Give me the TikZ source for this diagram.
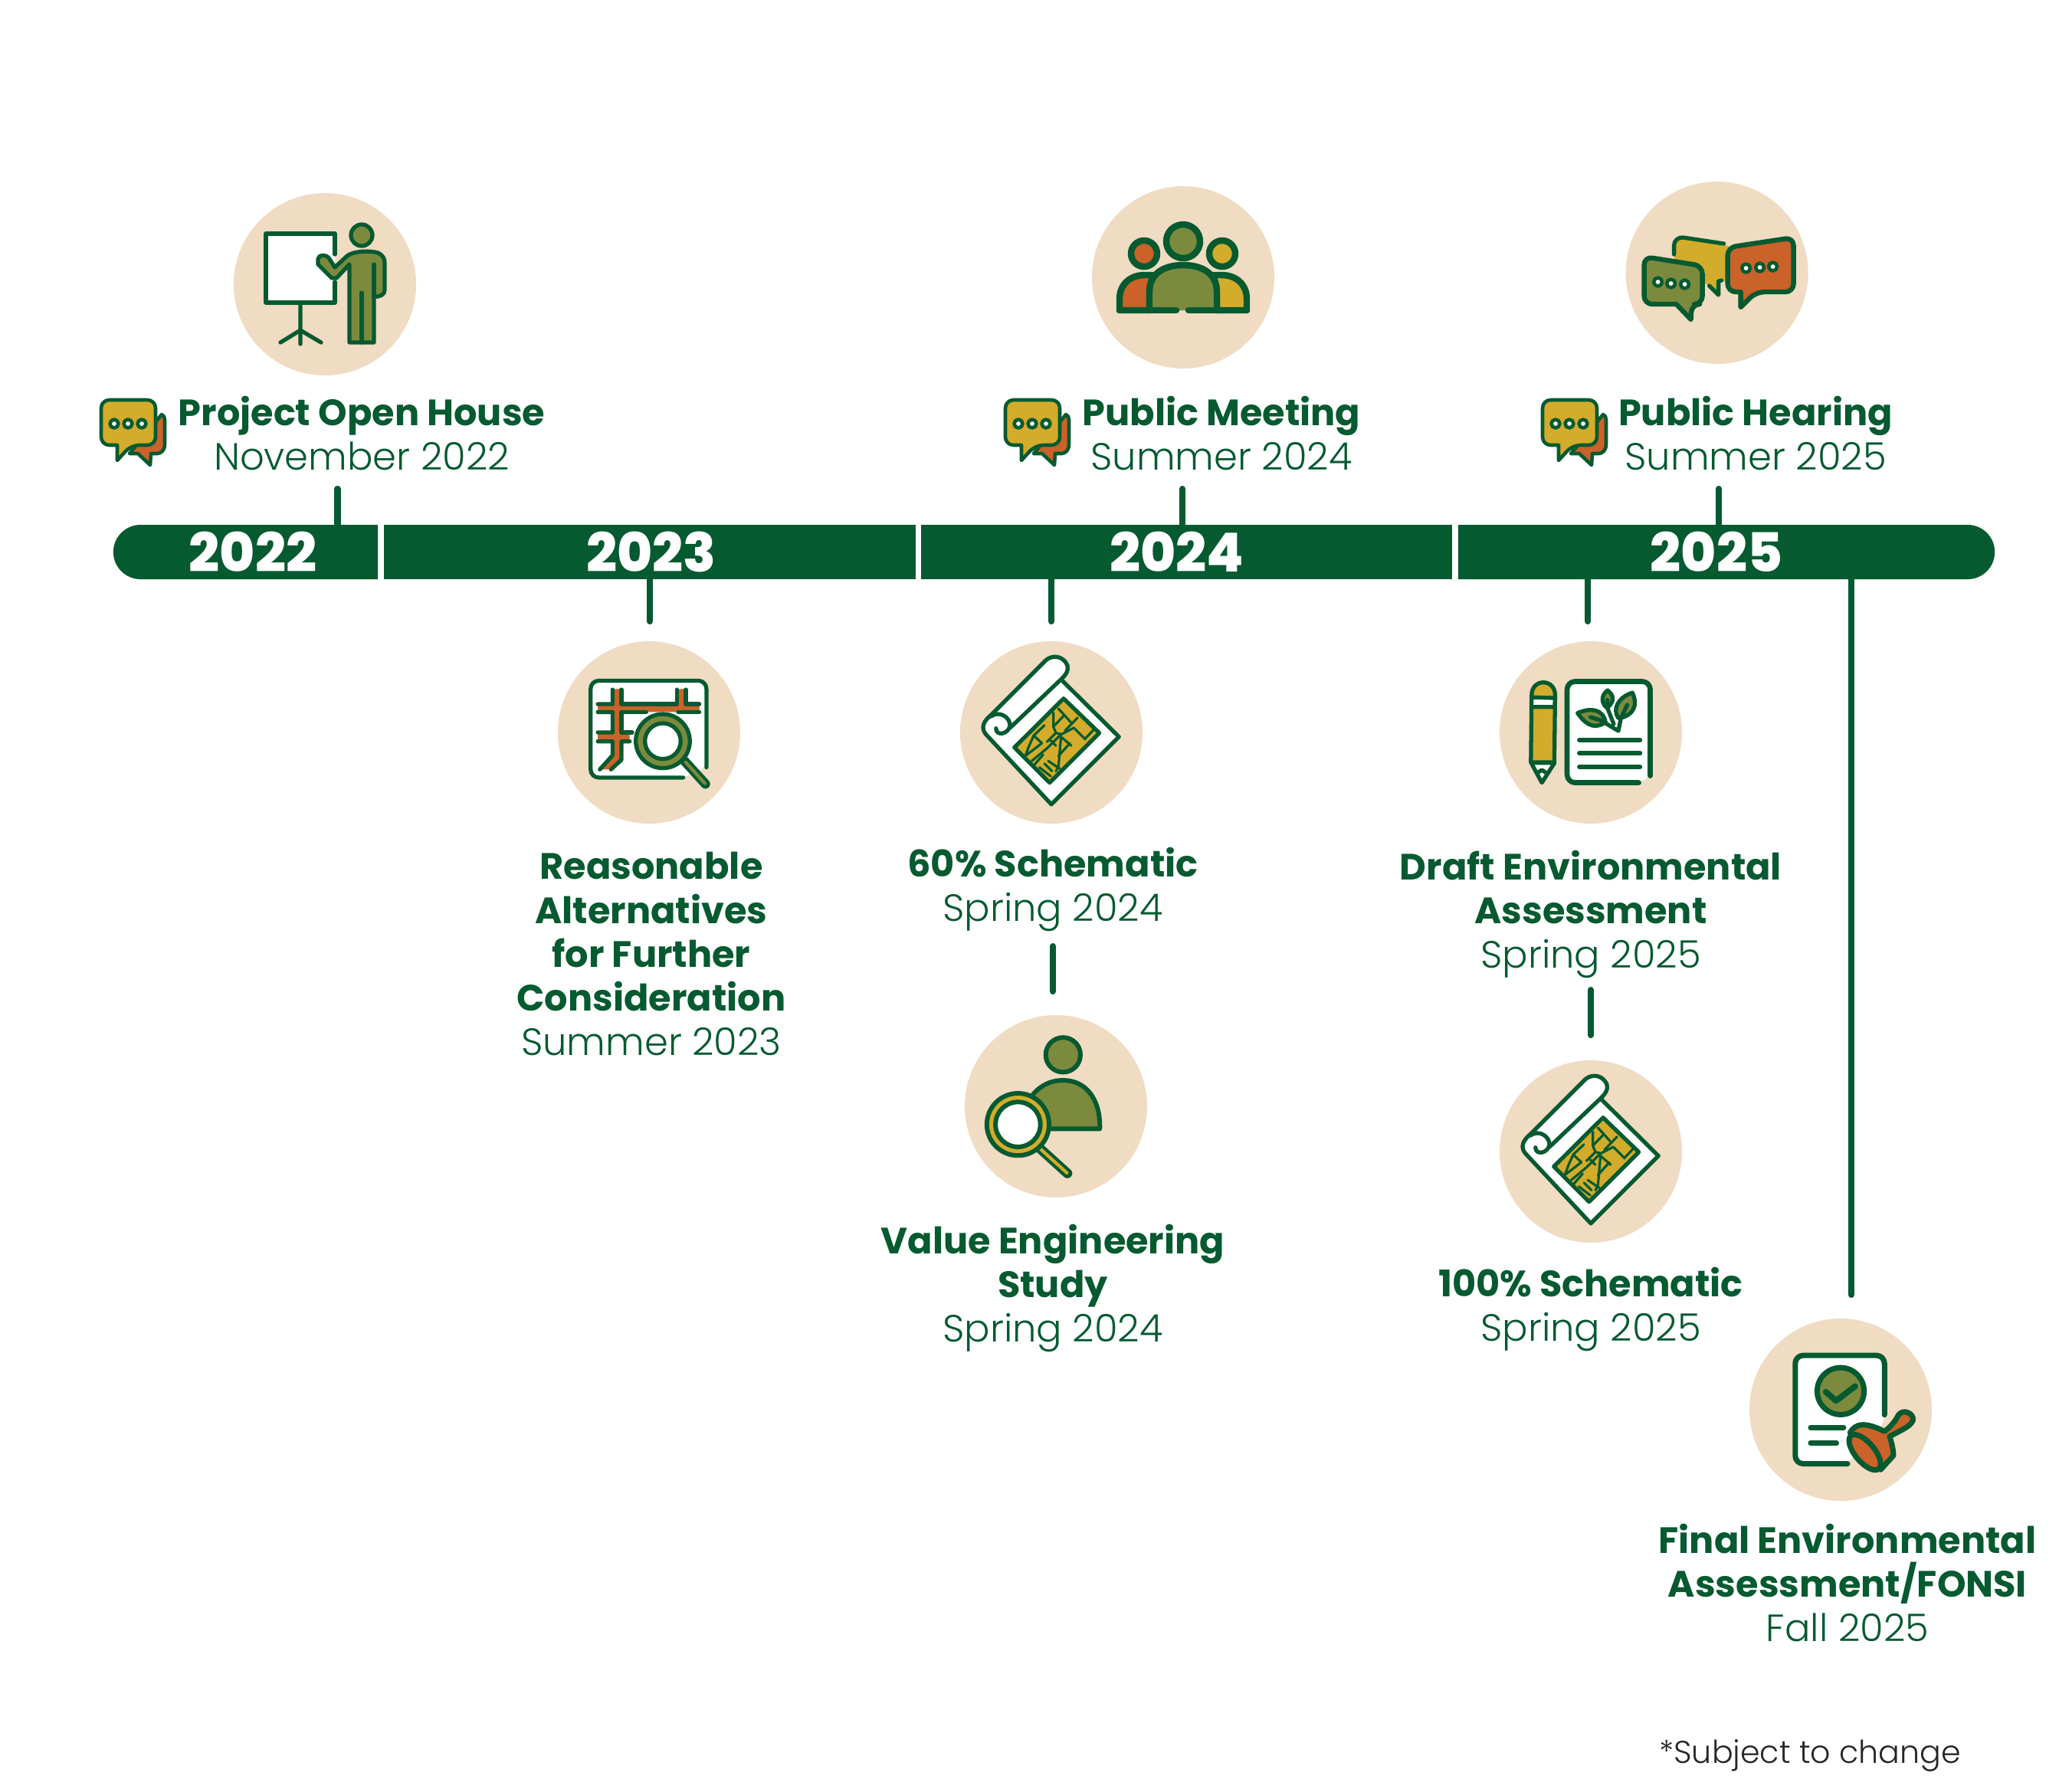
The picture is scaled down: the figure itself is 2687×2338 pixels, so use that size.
\documentclass[tikz,border=0pt]{standalone}
\usepackage{fontspec}
\setmainfont{Poppins}
\newfontfamily\lightface{Poppins Light}
\newfontfamily\heavyface{Poppins ExtraBold}
\usetikzlibrary{calc}
\usetikzlibrary{shapes.misc}
\definecolor{pine}{RGB}{6,90,48}
\definecolor{sand}{RGB}{240,219,195}
\definecolor{olive}{RGB}{124,138,62}
\definecolor{gold}{RGB}{211,172,43}
\definecolor{rust}{RGB}{203,98,41}
\tikzset{
  disc/.style={fill=sand},
  tick/.style={pine, line width=2.3pt, line cap=round},
  yearbar/.style={fill=pine, inner sep=0pt, minimum height=0.71cm},
  yeartext/.style={text=white, font=\fontsize{20}{22}\heavyface\selectfont, inner sep=0pt},
  title/.style={text=pine, align=center, inner sep=0pt, anchor=base,
    font=\fontsize{13.6}{16.3}\selectfont},
  note/.style={text=black!85, inner sep=0pt, anchor=base,
    font=\fontsize{11.7}{14}\lightface\selectfont},
  ink/.style={draw=pine, line width=1.5pt, line join=round, line cap=round},
  inkfine/.style={draw=pine, line width=0.9pt, line join=round, line cap=round},
  enlarged/.style={x=0.003333cm, y=-0.003333cm},
}
\newcommand{\Bold}[1]{{\bfseries #1}}
\newcommand{\Light}[1]{{\fontsize{14.1}{16.3}\lightface #1}}
\newcommand{\Dots}[6]{%
  \draw[ink, line width=1.3pt, fill=white] (#1,#2) circle (5.5);
  \draw[ink, line width=1.3pt, fill=white] (#3,#4) circle (5.5);
  \draw[ink, line width=1.3pt, fill=white] (#5,#6) circle (5.5);}
% small speech marks next to the public events
\newcommand{\ChatMark}[2]{%
  \begin{scope}[shift={(#1,#2)}]
    \draw[ink, line width=1.3pt, fill=rust] (81,21) .. controls (84,22) and (85,25) .. (85,28) -- (85,60)
      .. controls (85,68) and (80,72) .. (75,72) -- (67,72) -- (66,87) -- (50,72) -- (39,72) -- cycle;
    \draw[ink, line width=1.3pt, fill=gold, rounded corners=3pt] (2,2) -- (73,2) -- (73,61) -- (41,61)
      [sharp corners] -- (23,81) -- (23,61) [rounded corners=3pt] -- (2,61) -- cycle;
    \Dots{19}{33}{37}{33}{55}{33}
  \end{scope}}
% unrolled plan with street map
\newcommand{\PlanIcon}[1]{%
  \begin{scope}[shift={(#1)}, enlarged, shift={(-367,-378)}]
    \draw[ink, fill=white] (410,175) -- (632,395) -- (367,660) -- (110,385)
      .. controls (90,360) and (100,335) .. (130,310) -- (345,95)
      .. controls (375,70) and (415,80) .. (430,115)
      .. controls (435,135) and (425,150) .. (410,165) -- (205,360);
    \draw[ink] (130,315) .. controls (165,290) and (205,320) .. (205,350)
      .. controls (200,385) and (150,395) .. (150,362);
    \draw[ink, fill=gold] (415,245) -- (555,380) -- (360,575) -- (222,437) -- cycle;
    \draw[inkfine] (395,285) -- (418,310) -- (375,355) -- (385,380) -- (407,385) -- (455,360) -- (500,405);
    \draw[inkfine] (418,310) -- (445,340) (470,320) -- (420,372) (535,365) -- (500,402);
    \draw[inkfine] (375,300) -- (375,355) (340,350) -- (298,390) -- (330,420) -- (265,470);
    \draw[inkfine] (385,380) -- (350,415) (405,385) -- (350,440) -- (290,490);
    \draw[inkfine] (365,410) -- (385,430) (405,395) -- (395,510) -- (385,530);
    \draw[inkfine] (405,395) -- (445,430) (440,420) -- (395,470);
    \draw[inkfine] (335,465) -- (300,505) (355,490) -- (400,520) (340,500) -- (370,530) (320,515) -- (365,550);
    \draw[inkfine] (298,390) -- (280,430) -- (265,470);
  \end{scope}}

\begin{document}
\begin{tikzpicture}[x=0.01cm, y=-0.01cm]
\useasboundingbox (0,0) rectangle (2687,2338);

%%%%%%%%%%%%%%%%%%%%%%%%%%%%%%%%%%%%%%%%%%%%%%%%%%%%%%%%%%%%%% year bar
\node[yearbar, rounded rectangle, rounded rectangle right arc=none, minimum width=3.45cm] (bar22) at (320.5,720.5) {};
\node[yearbar, rectangle, minimum width=6.94cm] (bar23) at (848,720.5) {};
\node[yearbar, rectangle, minimum width=6.93cm] (bar24) at (1548.5,720.5) {};
\node[yearbar, rounded rectangle, rounded rectangle left arc=none, minimum width=7.00cm] (bar25) at (2253,720.5) {};
\node[yeartext] (year22) at (330,720.5) {2022};
\node[yeartext] (year23) at (850,720.5) {2023};
\node[yeartext] (year24) at (1536,720.5) {2024};
\node[yeartext] (year25) at (2240,720.5) {2025};

%%%%%%%%%%%%%%%%%%%%%%%%%%%%%%%%%%%%%%%%%%%%%%%%%%%%%%%%%%%%%% ticks
\coordinate (up22) at (440.5,638);
\coordinate (up24) at (1543,638);
\coordinate (up25) at (2243,638);
\coordinate (dn23) at (848,811);
\coordinate (dn24) at (1372,811);
\coordinate (dn25) at (2072,811);
\coordinate (dnFinal) at (2416,1690);
\draw[tick] (up22) -- (up22 |- bar22.north);
\draw[tick] (up24) -- (up24 |- bar24.north);
\draw[tick] (up25) -- (up25 |- bar25.north);
\draw[tick] (dn23) -- (dn23 |- bar23.south);
\draw[tick] (dn24) -- (dn24 |- bar24.south);
\draw[tick] (dn25) -- (dn25 |- bar25.south);
\draw[tick] (dnFinal) -- (dnFinal |- bar25.south);
\coordinate (linkA) at (1374,1235);
\coordinate (linkB) at (1374,1294);
\coordinate (linkC) at (2076,1292);
\coordinate (linkD) at (2076,1351);
\draw[tick] (linkA) -- (linkB);
\draw[tick] (linkC) -- (linkD);

%%%%%%%%%%%%%%%%%%%%%%%%%%%%%%%%%%%%%%%%%%%%%%%%%%%%%%%%%%%%%% labels
\node[title] (house) at (472,613) {\Bold{Project Open House}\\\Light{November 2022}};
\node[title] (meeting) at (1594,613) {\Bold{Public Meeting}\\\Light{Summer 2024}};
\node[title] (hearing) at (2291,613) {\Bold{Public Hearing}\\\Light{Summer 2025}};
\node[title] (alternatives) at (850,1377) {\Bold{Reasonable}\\\Bold{Alternatives}\\\Bold{for Further}\\\Bold{Consideration}\\\Light{Summer 2023}};
\node[title] (sixty) at (1374,1202) {\Bold{60\% Schematic}\\\Light{Spring 2024}};
\node[title] (value) at (1374,1751) {\Bold{Value Engineering}\\\Bold{Study}\\\Light{Spring 2024}};
\node[title] (draft) at (2076,1263) {\Bold{Draft Environmental}\\\Bold{Assessment}\\\Light{Spring 2025}};
\node[title] (hundred) at (2076,1750) {\Bold{100\% Schematic}\\\Light{Spring 2025}};
\node[title] (final) at (2411,2142) {\Bold{Final Environmental}\\\Bold{Assessment/FONSI}\\\Light{Fall 2025}};
\node[note] (change) at (2362,2301) {*Subject to change};

\ChatMark{130}{520}
\ChatMark{1310}{520}
\ChatMark{2011}{520}

%%%%%%%%%%%%%%%%%%%%%%%%%%%%%%%%%%%%%%%%%%%%%%%%%%%%%%%%%%%%%% icon-house
\coordinate (A) at (424,371);
\fill[disc] (A) circle (119);
\begin{scope}[shift={(A)}]
  \draw[ink, fill=white] (13,-39) -- (13,-66) -- (-77,-66) -- (-77,24) -- (13,24) -- (13,-3);
  \draw[ink] (-32,24) -- (-32,78) (-32,60) -- (-58,76) (-32,60) -- (-5,76);
  \draw[ink, fill=olive] (48,-64) ellipse (14 and 14);
  \draw[ink, fill=olive] (-9,-33) .. controls (-9,-38) and (2,-40) .. (6,-33) -- (13,-22) -- (29,-37)
    .. controls (38,-44) and (60,-44) .. (69,-41) .. controls (76,-38) and (78,-33) .. (78,-28) -- (78,8)
    .. controls (78,13) and (72,17) .. (64,16) -- (64,76) -- (32,76) -- (32,-26) -- (15,-8) -- (9,-8) -- (-9,-26) -- cycle;
  \draw[ink] (64,-26) -- (64,16) (48,11) -- (48,76);
\end{scope}

%%%%%%%%%%%%%%%%%%%%%%%%%%%%%%%%%%%%%%%%%%%%%%%%%%%%%%%%%%%%%% icon-meeting
\coordinate (A) at (1544,362);
\fill[disc] (A) circle (119);
\begin{scope}[shift={(A)}, line width=2.4pt]
  \draw[ink, line width=2.4pt, fill=rust] (-40,-3) -- (-50,-3) .. controls (-70,-3) and (-83,10) .. (-83,28) -- (-83,43) -- (-44,43) -- (-44,20) -- cycle;
  \draw[ink, line width=2.4pt, fill=gold] (40,-3) -- (50,-3) .. controls (70,-3) and (83,10) .. (83,28) -- (83,43) -- (44,43) -- (44,20) -- cycle;
  \fill[olive] (-44,43) -- (-44,19) .. controls (-44,-5) and (-25,-16) .. (0,-16) .. controls (25,-16) and (44,-5) .. (44,19) -- (44,43) -- cycle;
  \draw[ink, line width=2.4pt] (-44,43) -- (-44,19) .. controls (-44,-5) and (-25,-16) .. (0,-16) .. controls (25,-16) and (44,-5) .. (44,19) -- (44,43);
  \draw[ink, line width=2.4pt] (-83,43) -- (-9,43) (7,43) -- (83,43);
  \draw[ink, line width=2.4pt, fill=olive] (0,-47) circle (22);
  \draw[ink, line width=2.4pt, fill=rust] (-51,-31) circle (17);
  \draw[ink, line width=2.4pt, fill=gold] (51,-31) circle (17);
\end{scope}

%%%%%%%%%%%%%%%%%%%%%%%%%%%%%%%%%%%%%%%%%%%%%%%%%%%%%%%%%%%%%% icon-hearing
\coordinate (A) at (2240.6,356);
\fill[disc] (A) circle (119);
\begin{scope}[shift={(A)}]
  \fill[gold] (-56,-42) -- (-46,-46) -- (20,-34) -- (20,10) -- (2,12) -- (2,28) -- (-10,17) -- (-40,0) -- (-56,-20) -- cycle;
  \draw[ink] (-56,-24) -- (-56,-36) .. controls (-56,-42) and (-50,-47) .. (-44,-46) -- (9,-38);
  \draw[ink] (-10,17) -- (2,29) -- (2,11) -- (6,10);
  \draw[ink, line width=1.8pt, fill=olive, rounded corners=3pt] (-95,-21) -- (-19,-9) -- (-19,41) -- (-33,41)
    [sharp corners] -- (-34,61) -- (-53,41) [rounded corners=3pt] -- (-95,41) -- cycle;
  \Dots{-77}{12}{-60}{14}{-42}{15}
  \draw[ink, line width=1.8pt, fill=rust, rounded corners=3pt] (14,-33) -- (100,-46) -- (100,25) -- (51,25)
    [sharp corners] -- (31,45) -- (31,25) [rounded corners=3pt] -- (14,25) -- cycle;
  \Dots{38}{-6}{56}{-7}{73}{-8}
\end{scope}

%%%%%%%%%%%%%%%%%%%%%%%%%%%%%%%%%%%%%%%%%%%%%%%%%%%%%%%%%%%%%% icon-alternatives
\coordinate (A) at (847,956);
\fill[disc] (A) circle (119);
\begin{scope}[shift={(A)}, enlarged, shift={(-381,-378)}]
  \fill[white, rounded corners=3pt] (152,175) -- (606,175) -- (606,515) -- (520,555) -- (152,555) -- cycle;
  \draw[ink, rounded corners=3pt] (515,555) -- (152,555) -- (152,175) -- (606,175) -- (606,515);
  \fill[rust] (238,208) -- (273,208) -- (273,267) -- (490,267) -- (490,208) -- (525,208) -- (525,267)
    -- (578,267) -- (578,298) -- (273,298) -- (273,378) -- (305,378) -- (305,413) -- (273,413) -- (273,485)
    -- (232,523) -- (188,523) -- (238,468) -- (238,413) -- (180,413) -- (180,378) -- (238,378) -- (238,298)
    -- (180,298) -- (180,267) -- (238,267) -- cycle;
  \draw[ink] (238,210) -- (238,267) -- (180,267) (180,298) -- (238,298) -- (238,378) -- (180,378)
    (180,413) -- (238,413) -- (238,468) -- (188,523);
  \draw[ink] (273,210) -- (273,267) -- (490,267) -- (490,210) (525,210) -- (525,267) -- (578,267);
  \draw[ink] (578,298) -- (495,298) (370,298) -- (273,298) -- (273,378) -- (315,378);
  \draw[ink] (305,413) -- (273,413) -- (273,485) -- (232,523);
  \draw[pine, line width=3.5pt, line cap=round] (520,490) -- (602,580);
  \draw[olive, line width=1.2pt, line cap=round] (525,495) -- (600,578);
  \draw[ink, fill=olive] (435,412) circle (106);
  \draw[ink, fill=white] (435,412) circle (70);
\end{scope}

%%%%%%%%%%%%%%%%%%%%%%%%%%%%%%%%%%%%%%%%%%%%%%%%%%%%%%%%%%%%%% icon-plans
\coordinate (A) at (1372,956);
\fill[disc] (A) circle (119);
\PlanIcon{A}
\coordinate (A) at (2076,1503);
\fill[disc] (A) circle (119);
\PlanIcon{A}

%%%%%%%%%%%%%%%%%%%%%%%%%%%%%%%%%%%%%%%%%%%%%%%%%%%%%%%%%%%%%% icon-draft
\coordinate (A) at (2076,956);
\fill[disc] (A) circle (119);
\begin{scope}[shift={(A)}, enlarged, shift={(-347,-378)}]
  \draw[ink, fill=white] (113,497) -- (155,575) -- (205,497) -- cycle;
  \draw[ink, fill=gold] (112,495) -- (115,232) .. controls (115,165) and (207,165) .. (207,232) -- (204,495) -- cycle;
  \draw[ink, fill=white] (115,240) -- (207,243) -- (205,278) -- (114,278) -- cycle;
  \draw[ink] (140,535) -- (155,525) -- (170,535);
  \fill[white, rounded corners=3pt] (254,178) -- (580,178) -- (580,548) -- (545,575) -- (254,575) -- cycle;
  \draw[ink, line width=1.9pt, rounded corners=3pt] (535,575) -- (254,575) -- (254,178) -- (580,178) -- (580,548);
  \draw[ink, fill=olive] (410,282) .. controls (380,255) and (395,225) .. (413,213) .. controls (435,230) and (445,255) .. (410,282) -- cycle;
  \draw[ink, fill=olive] (455,322) .. controls (430,285) and (455,240) .. (510,222) .. controls (535,275) and (510,315) .. (455,322) -- cycle;
  \draw[ink, fill=olive] (405,338) .. controls (350,375) and (315,330) .. (295,302) .. controls (345,280) and (395,285) .. (405,338) -- cycle;
  \draw[ink] (412,250) -- (415,290) -- (437,345) (345,318) -- (385,330) -- (455,372) -- (465,322) -- (490,270);
  \draw[ink, line width=1.7pt] (302,408) -- (540,408) (302,460) -- (540,460) (302,513) -- (540,513);
\end{scope}

%%%%%%%%%%%%%%%%%%%%%%%%%%%%%%%%%%%%%%%%%%%%%%%%%%%%%%%%%%%%%% icon-value
\coordinate (A) at (1378,1444);
\fill[disc] (A) circle (119);
\begin{scope}[shift={(A)}, enlarged, shift={(-355,-342)}]
  \draw[ink, line width=1.7pt, fill=olive] (383,140) circle (68);
  \draw[ink, line width=1.7pt, fill=olive] (265,295) .. controls (300,255) and (340,240) .. (383,240)
    .. controls (470,240) and (530,310) .. (527,430) -- (330,430);
  \draw[pine, line width=3.6pt, line cap=round] (295,510) -- (400,605);
  \draw[gold, line width=1.2pt, line cap=round] (295,510) -- (398,603);
  \draw[ink, line width=1.7pt, fill=gold] (206,413) circle (122);
  \draw[ink, line width=1.7pt, fill=white] (206,413) circle (88);
\end{scope}

%%%%%%%%%%%%%%%%%%%%%%%%%%%%%%%%%%%%%%%%%%%%%%%%%%%%%%%%%%%%%% icon-final
\coordinate (A) at (2402,1840);
\fill[disc] (A) circle (119);
\begin{scope}[shift={(A)}, enlarged, shift={(-338,-330)}]
  \fill[white, rounded corners=3pt] (160,117) -- (510,117) -- (510,380) -- (365,542) -- (160,542) -- cycle;
  \draw[ink, line width=2pt, rounded corners=3pt] (365,542) -- (160,542) -- (160,117) -- (510,117) -- (510,350);
  \draw[ink, line width=2pt, fill=olive] (338,257) circle (92);
  \draw[ink, line width=2.2pt] (280,260) -- (320,295) -- (395,238);
  \draw[ink, line width=1.9pt] (220,400) -- (350,400) (220,461) -- (322,461);
  \draw[ink, line width=2pt, fill=rust] (375,420) .. controls (395,385) and (430,375) .. (510,415)
    .. controls (530,400) and (550,380) .. (565,350) .. controls (585,325) and (625,345) .. (622,370)
    .. controls (615,395) and (575,410) .. (530,435) .. controls (540,465) and (545,490) .. (545,510)
    -- (495,565) -- (440,510) -- cycle;
  \draw[ink, line width=2pt, fill=rust, rotate around={-50:(433,497)}] (433,497) ellipse (85 and 38);
\end{scope}

\end{tikzpicture}
\end{document}
